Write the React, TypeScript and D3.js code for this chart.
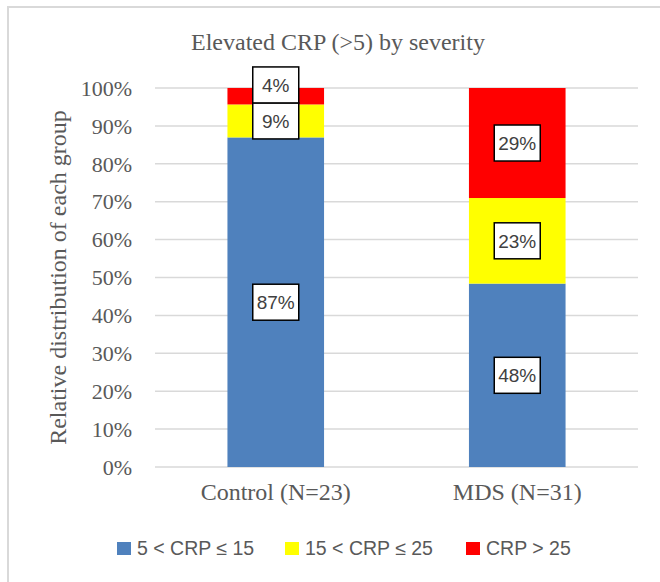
import React, { useEffect, useRef } from "react";
import * as d3 from "d3";

const groups = ["Control (N=23)", "MDS (N=31)"];
const series = ["5 < CRP ≤ 15", "15 < CRP ≤ 25", "CRP > 25"];
const colors = ["#4F81BD", "#FFFF00", "#FF0000"];
// share of each group, per severity band
const low = [0.8696, 0.4839];
const mid = [0.0870, 0.2258];
const high = [0.0435, 0.2903];
const yTicks = [0, 0.1, 0.2, 0.3, 0.4, 0.5, 0.6, 0.7, 0.8, 0.9, 1.0];

export default function App() {
  const ref = useRef<SVGSVGElement>(null);

  useEffect(() => {
    if (!ref.current) return;
    const width = 660;
    const height = 582;
    const margin = { top: 88, right: 22, bottom: 115, left: 155 };

    const svg = d3.select(ref.current);
    svg.selectAll("*").remove();

    // chart frame (runs off the right and bottom edges)
    svg
      .append("rect")
      .attr("x", 8)
      .attr("y", 7)
      .attr("width", 700)
      .attr("height", 600)
      .attr("fill", "#fff")
      .attr("stroke", "#d9d9d9")
      .attr("stroke-width", 2);

    const x = d3
      .scaleBand()
      .domain(groups)
      .range([margin.left, width - margin.right])
      .paddingInner(0.6)
      .paddingOuter(0.3);

    const y = d3
      .scaleLinear()
      .domain([0, 1])
      .range([height - margin.bottom, margin.top]);

    // gridlines
    svg
      .append("g")
      .selectAll("line")
      .data(yTicks)
      .join("line")
      .attr("x1", margin.left)
      .attr("x2", width - margin.right)
      .attr("y1", (d) => y(d))
      .attr("y2", (d) => y(d))
      .attr("stroke", "#d9d9d9")
      .attr("stroke-width", 1.5);

    // tick labels
    svg
      .append("g")
      .selectAll("text")
      .data(yTicks)
      .join("text")
      .attr("x", 132)
      .attr("y", (d) => y(d))
      .attr("dy", "0.35em")
      .attr("text-anchor", "end")
      .style("font-family", "'Liberation Serif', serif")
      .style("font-size", "22px")
      .attr("fill", "#595959")
      .text((d) => d3.format(".0%")(d));

    const rows = groups.map((g, i) => ({ group: g, s0: low[i], s1: mid[i], s2: high[i] }));
    const stacked = d3.stack<any>().keys(["s0", "s1", "s2"])(rows);

    stacked.forEach((layer, si) => {
      svg
        .append("g")
        .selectAll("rect")
        .data(layer)
        .join("rect")
        .attr("x", (d: any) => x(d.data.group)!)
        .attr("width", x.bandwidth())
        .attr("y", (d) => y(d[1]))
        .attr("height", (d) => y(d[0]) - y(d[1]))
        .attr("fill", colors[si]);
    });

    // data labels, pushed up when they would overlap
    const boxW = 46;
    const boxH = 36;
    groups.forEach((g, gi) => {
      let prev = Infinity;
      stacked.forEach((layer) => {
        const d = layer[gi];
        let cy = y((d[0] + d[1]) / 2);
        if (cy > prev - boxH) cy = prev - boxH;
        prev = cy;
        const cx = x(g)! + x.bandwidth() / 2;
        const v = d[1] - d[0];
        svg
          .append("rect")
          .attr("x", cx - boxW / 2)
          .attr("y", cy - boxH / 2)
          .attr("width", boxW)
          .attr("height", boxH)
          .attr("fill", "#fff")
          .attr("stroke", "#000")
          .attr("stroke-width", 1.5);
        svg
          .append("text")
          .attr("x", cx)
          .attr("y", cy)
          .attr("dy", "0.36em")
          .attr("text-anchor", "middle")
          .style("font-family", "'Liberation Sans', sans-serif")
          .style("font-size", "19px")
          .attr("fill", "#404040")
          .text(d3.format(".0%")(v));
      });
    });

    // category labels
    svg
      .append("g")
      .selectAll("text")
      .data(groups)
      .join("text")
      .attr("x", (d) => x(d)! + x.bandwidth() / 2)
      .attr("y", 500)
      .attr("text-anchor", "middle")
      .style("font-family", "'Liberation Serif', serif")
      .style("font-size", "24px")
      .attr("fill", "#595959")
      .text((d) => d);

    // title
    svg
      .append("text")
      .attr("x", 338)
      .attr("y", 50)
      .attr("text-anchor", "middle")
      .style("font-family", "'Liberation Serif', serif")
      .style("font-size", "24px")
      .attr("fill", "#595959")
      .text("Elevated CRP (>5) by severity");

    // y axis title
    svg
      .append("text")
      .attr("transform", `translate(66, ${(y(0) + y(1)) / 2}) rotate(-90)`)
      .attr("text-anchor", "middle")
      .style("font-family", "'Liberation Serif', serif")
      .style("font-size", "24px")
      .attr("fill", "#595959")
      .text("Relative distribution of each group");

    // legend
    const legendX = [117, 285, 466];
    const legend = svg.append("g");
    series.forEach((s, i) => {
      legend
        .append("rect")
        .attr("x", legendX[i])
        .attr("y", 542)
        .attr("width", 14)
        .attr("height", 13)
        .attr("fill", colors[i]);
      legend
        .append("text")
        .attr("x", legendX[i] + 20)
        .attr("y", 548)
        .attr("dy", "0.36em")
        .style("font-family", "'Liberation Sans', sans-serif")
        .style("font-size", "19.5px")
        .attr("fill", "#595959")
        .text(s);
    });
  }, []);

  return (
    <svg
      ref={ref}
      width={660}
      height={582}
      style={{ position: "absolute", left: 0, top: 0, display: "block" }}
    />
  );
}
